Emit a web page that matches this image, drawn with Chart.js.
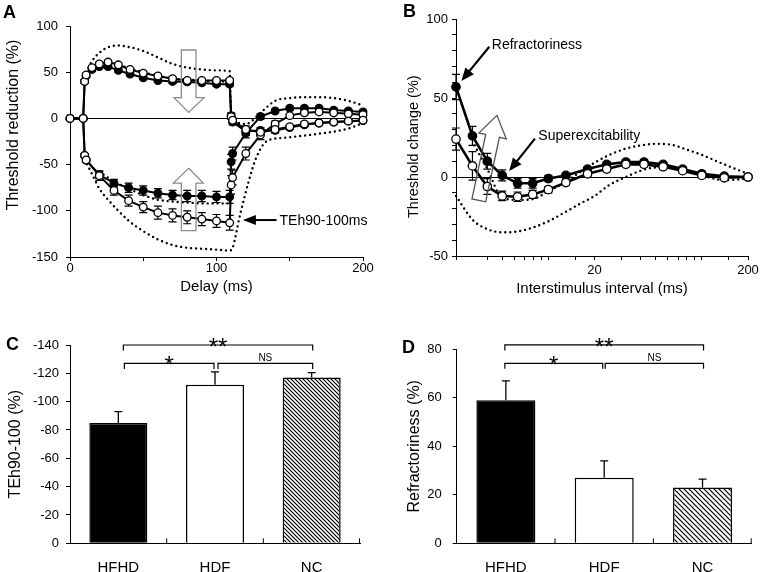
<!DOCTYPE html>
<html><head><meta charset="utf-8">
<script src="https://cdn.jsdelivr.net/npm/chart.js@4.4.1/dist/chart.umd.min.js"></script>
<style>
html,body{margin:0;padding:0;background:#fff;}
#wrap{position:relative;width:763px;height:572px;overflow:hidden;background:#fff;}
canvas{position:absolute;}
.lbl{position:absolute;font:bold 18px "Liberation Sans",Arial,sans-serif;color:#000;line-height:18px;}
</style></head><body>
<div id="wrap">
<canvas id="cA" width="380" height="300" style="left:0;top:0"></canvas>
<canvas id="cB" width="383" height="300" style="left:380px;top:0"></canvas>
<canvas id="cC" width="380" height="272" style="left:0;top:300px"></canvas>
<canvas id="cD" width="383" height="272" style="left:380px;top:300px"></canvas>
<div class="lbl" style="left:3px;top:3px">A</div>
<div class="lbl" style="left:403px;top:2px">B</div>
<div class="lbl" style="left:6px;top:335px">C</div>
<div class="lbl" style="left:402px;top:338px">D</div>
</div>
<script>
// ===== Panel A: threshold electrotonus =====
const delayDep = [0, 9, 10, 11, 15, 20, 26, 33, 41, 50, 60, 70, 80, 90, 100, 109, 110, 111, 120, 130, 140, 150, 160, 170, 180, 190, 200];
const tedHFHD  = [0, 0, 40, 46, 53, 56, 56, 52, 48, 44, 41, 40, 39.5, 38.5, 37, 37, 3, -4, -14, -13, -13, -10, -7, -5, -4, -3, -2.5];
const tedHDF   = [0, 0, 40, 47, 55, 59, 61, 58, 53, 49, 46, 43, 41, 41, 41, 41, 2, -2, -12, -15, -12, -9, -6, -5, -4, -3, -2];
const tedErrHFHD = [0, 0, 2, 2, 2, 2, 2, 2, 2, 2, 2, 2, 2, 2, 2, 2, 3, 3, 4, 3, 3, 2, 2, 2, 2, 2, 2];
const tedErrHDF  = [0, 0, 2, 2, 2, 2, 2, 2, 2, 2, 2, 2, 2, 2, 2, 2, 3, 3, 4, 3, 3, 2, 2, 2, 2, 2, 2];

const delayHyp = [0, 9, 10, 11, 20, 30, 40, 50, 60, 70, 80, 90, 100, 109, 110, 111, 120, 130, 140, 150, 160, 170, 180, 190, 200];
const tehHFHD  = [0, 0, -40, -45, -61, -70, -75, -78, -81, -83, -84, -84, -85, -85, -47, -38, -16, 2, 8, 11, 11, 11, 9, 8, 7];
const tehHDF   = [0, 0, -40, -45, -62, -78, -89, -96, -102, -105, -107, -109, -111, -113, -72, -64, -38, -18, -6, 3, 6, 7, 6, 5, 4];
const tehErrHFHD = [0, 0, 2, 2, 4, 4, 5, 5, 5, 5, 6, 6, 6, 7, 8, 7, 5, 3, 2, 2, 2, 2, 2, 2, 2];
const tehErrHDF  = [0, 0, 2, 2, 5, 5, 6, 6, 7, 7, 7, 7, 7, 8, 10, 8, 7, 5, 3, 2, 2, 2, 2, 2, 2];

// normal-range limits (dotted)
const nrUpperDelay = [11, 15, 20, 26, 33, 41, 50, 60, 70, 80, 90, 100, 109, 110, 120, 130, 140, 150, 160, 170, 180, 190, 200];
const nrUpperTE    = [50, 62, 71, 77, 79, 77, 73, 66, 59, 55, 53, 52, 51, 4, -6, 6, 19, 22, 23, 23, 22, 19, 14];
const nrLowerDelay = [10, 15, 20, 26, 33, 41, 50, 60, 70, 80, 90, 100, 109, 111, 116, 122, 127, 134, 146, 168, 190, 200];
const nrLowerTE    = [-45, -60, -76, -88, -100, -112, -122, -131, -137, -140, -141, -142, -143, -140, -105, -68, -43, -25, -21, -17, -11, -5];
const nrInnerHypDelay = [20, 30, 40, 50, 60, 70, 80, 90, 100, 109];
const nrInnerHyp      = [-58, -68, -76, -83, -88, -90, -91, -92, -92, -92];
const nrInnerDepDelay = [15, 20, 26, 33, 41, 50, 60, 70, 80, 90, 100, 109];
const nrInnerDep      = [52, 57, 60, 58, 54, 50, 46, 43, 42, 41, 40, 40];
const xLabelsA = [0, 100, 200];

// ===== Panel B: recovery cycle =====
const isi = [2.5, 3.2, 4, 5, 6.3, 7.9, 10, 13, 18, 24, 32, 42, 56, 75, 100, 140, 200];
const rcHFHD = [57, 26, 10, 1, -4, -4, -1, 1, 5, 8, 9.5, 9.5, 8, 5, 2, 0.5, 0];
const rcHDF  = [24, 7, -6, -12, -12.5, -11, -8, -3.5, 2, 5, 8, 8, 6.5, 4, 1, -0.5, 0];
const rcErrHFHD = [8, 6, 5, 3.5, 3, 3, 2, 1.5, 1.5, 1.5, 1.5, 1.5, 1.5, 1.5, 1.5, 1, 0];
const rcErrHDF  = [7, 9, 5, 3, 3, 2.5, 2, 1.5, 1.5, 1.5, 1.5, 1.5, 1.5, 1.5, 1.5, 1, 0];
const nrRcUpperIsi = [3.3, 4, 5, 6.3, 7.9, 10, 13, 16, 20, 25, 32, 40, 50, 63, 79, 100, 140, 200];
const nrRcUpper    = [20, 5, -13, -14.5, -14, -9, -3, 3, 9, 14, 18, 20, 21, 20.5, 17.5, 14, 8, 2];
const nrRcLowerIsi = [2.5, 3.2, 4, 5, 6.3, 7.9, 10, 13, 16, 20, 25, 32, 40, 50, 63, 79, 100, 140, 200];
const nrRcLower    = [-12, -27, -33, -35, -34.5, -32, -28, -22, -17, -12, -5, 0, 4, 6, 6, 4, 1, -2, -1];
const xLabelsB = [20, 200];

// ===== Panels C & D: group bars =====
const groups = ['HFHD', 'HDF', 'NC'];
const teh90 = [-85, -112, -117];
const teh90Err = [8, 9, 3.5];
const refract = [59, 27, 23];
const refractErr = [8, 7, 3.5];
const sigMarks = ['**', '*', 'NS'];

// ===== helpers =====
const FONT = '"Liberation Sans", Arial, Helvetica, sans-serif';
Chart.defaults.font.family = FONT;
Chart.defaults.color = '#000';

function pts(xs, ys) { return xs.map((x, i) => ({x: x, y: ys[i]})); }
function mainLine(xs, ys, filled, lw, r) {
  return {data: pts(xs, ys), borderColor: '#000', borderWidth: lw, pointRadius: r, pointHoverRadius: r,
    pointBackgroundColor: filled ? '#000' : '#fff', pointBorderColor: '#000', pointBorderWidth: 1.3,
    tension: 0, clip: false, showLine: true};
}
function dotted(xs, ys) {
  return {data: pts(xs, ys), borderColor: '#000', borderWidth: 2.4, borderDash: [0, 5], borderCapStyle: 'round',
    pointRadius: 0, pointHoverRadius: 0, cubicInterpolationMode: 'monotone', clip: false, showLine: true};
}
function errBars(chart, xs, ys, es, cap) {
  const sx = chart.scales.x, sy = chart.scales.y, ctx = chart.ctx;
  ctx.save(); ctx.strokeStyle = '#000'; ctx.lineWidth = 1.2;
  xs.forEach((x, i) => {
    const e = es[i]; if (!e) return;
    const p = sx.getPixelForValue(x), a = sy.getPixelForValue(ys[i] - e), b = sy.getPixelForValue(ys[i] + e);
    ctx.beginPath();
    ctx.moveTo(p, a); ctx.lineTo(p, b);
    ctx.moveTo(p - cap, a); ctx.lineTo(p + cap, a);
    ctx.moveTo(p - cap, b); ctx.lineTo(p + cap, b);
    ctx.stroke();
  });
  ctx.restore();
}
function polyData(chart, poly, color, lw) {
  const sx = chart.scales.x, sy = chart.scales.y, ctx = chart.ctx;
  ctx.save(); ctx.strokeStyle = color; ctx.lineWidth = lw; ctx.lineJoin = 'miter';
  ctx.beginPath();
  poly.forEach((q, i) => { const X = sx.getPixelForValue(q[0]), Y = sy.getPixelForValue(q[1]); if (i) ctx.lineTo(X, Y); else ctx.moveTo(X, Y); });
  ctx.closePath(); ctx.stroke(); ctx.restore();
}
function hollowDir(ctx, x0, y0, x1, y1, sh, hh, hl, color) {
  const dx = x1 - x0, dy = y1 - y0, L = Math.hypot(dx, dy), ux = dx / L, uy = dy / L, nx = -uy, ny = ux;
  const bx = x1 - ux * hl, by = y1 - uy * hl;
  const P = [[x0 + nx * sh, y0 + ny * sh], [bx + nx * sh, by + ny * sh], [bx + nx * hh, by + ny * hh], [x1, y1],
             [bx - nx * hh, by - ny * hh], [bx - nx * sh, by - ny * sh], [x0 - nx * sh, y0 - ny * sh]];
  ctx.save(); ctx.strokeStyle = color; ctx.lineWidth = 1.3; ctx.beginPath();
  P.forEach((q, i) => i ? ctx.lineTo(q[0], q[1]) : ctx.moveTo(q[0], q[1]));
  ctx.closePath(); ctx.stroke(); ctx.restore();
}
function solidArrow(ctx, x0, y0, x1, y1, lw, hl, hw) {
  const dx = x1 - x0, dy = y1 - y0, L = Math.hypot(dx, dy), ux = dx / L, uy = dy / L, nx = -uy, ny = ux;
  const bx = x1 - ux * hl, by = y1 - uy * hl;
  ctx.save(); ctx.strokeStyle = '#000'; ctx.fillStyle = '#000'; ctx.lineWidth = lw;
  ctx.beginPath(); ctx.moveTo(x0, y0); ctx.lineTo(bx + ux * 2, by + uy * 2); ctx.stroke();
  ctx.beginPath(); ctx.moveTo(x1, y1); ctx.lineTo(bx + nx * hw, by + ny * hw); ctx.lineTo(bx - nx * hw, by - ny * hw); ctx.closePath(); ctx.fill();
  ctx.restore();
}
function txt(ctx, s, x, y, size, align, base) {
  ctx.save(); ctx.font = size + 'px ' + FONT; ctx.fillStyle = '#000'; ctx.textAlign = align || 'left';
  ctx.textBaseline = base || 'middle'; ctx.fillText(s, x, y); ctx.restore();
}
function vText(ctx, s, x, y, size) {
  ctx.save(); ctx.translate(x, y); ctx.rotate(-Math.PI / 2); ctx.font = size + 'px ' + FONT; ctx.fillStyle = '#000';
  ctx.textAlign = 'center'; ctx.textBaseline = 'middle'; ctx.fillText(s, 0, 0); ctx.restore();
}
function P(chart, x, y) { return [chart.scales.x.getPixelForValue(x), chart.scales.y.getPixelForValue(y)]; }
const zeroGrid = c => (c.tick && c.tick.value === 0) ? '#000' : 'rgba(0,0,0,0)';

// ===== Chart A =====
const plugA = {
  id: 'plugA',
  beforeDatasetsDraw(chart) {
    errBars(chart, delayHyp, tehHFHD, tehErrHFHD, 4);
    errBars(chart, delayHyp, tehHDF, tehErrHDF, 4);
    errBars(chart, delayDep, tedHFHD, tedErrHFHD, 4);
    errBars(chart, delayDep, tedHDF, tedErrHDF, 4);
  },
  afterDatasetsDraw(chart) {
    const ctx = chart.ctx;
    polyData(chart, [[76, 74], [86, 74], [86, 22.5], [91.5, 22.5], [81, 6.5], [71, 22.5], [76, 22.5]], '#8c8c8c', 1.3);
    polyData(chart, [[81, -54], [91, -70], [86, -70], [86, -121.5], [76, -121.5], [76, -70], [70.5, -70]], '#8c8c8c', 1.3);
    const t = P(chart, 141, -110), h = P(chart, 118, -110), s = P(chart, 143, -110);
    solidArrow(ctx, t[0], t[1], h[0], h[1], 2, 13, 5);
    txt(ctx, 'TEh90-100ms', s[0], s[1] + 1, 14);
    vText(ctx, 'Threshold reduction (%)', 13.5, 125, 16);
  }
};
new Chart(document.getElementById('cA'), {
  type: 'line',
  data: {datasets: [
    mainLine(delayDep, tedHDF, false, 2, 3.8),
    mainLine(delayHyp, tehHDF, false, 2, 3.8),
    mainLine(delayDep, tedHFHD, true, 2, 3.8),
    mainLine(delayHyp, tehHFHD, true, 2, 3.8),
    dotted(nrUpperDelay, nrUpperTE),
    dotted(nrLowerDelay, nrLowerTE),
    dotted(nrInnerHypDelay, nrInnerHyp),
    dotted(nrInnerDepDelay, nrInnerDep)
  ]},
  options: {
    responsive: false, devicePixelRatio: 1, animation: false, events: [],
    layout: {padding: {left: 0, top: 26, right: 17, bottom: 0}},
    plugins: {legend: {display: false}, tooltip: {enabled: false}},
    scales: {
      x: {type: 'linear', min: 0, max: 200,
          ticks: {stepSize: 50, autoSkip: false, maxRotation: 0, font: {size: 13}, padding: 0, callback: v => xLabelsA.includes(v) ? String(v) : ''},
          grid: {drawOnChartArea: false, tickLength: 4, color: '#000'}, border: {color: '#000', width: 1},
          title: {display: true, text: 'Delay (ms)', font: {size: 15}, padding: {top: 0, bottom: 4}},
          afterFit: s => { s.height = 43; }},
      y: {min: -150, max: 100, ticks: {stepSize: 50, font: {size: 13}, padding: 8},
          grid: {color: zeroGrid, tickColor: '#000', tickLength: 4, lineWidth: 1}, border: {color: '#000', width: 1},
          afterFit: s => { s.width = 70; }}
    }
  },
  plugins: [plugA]
});

// ===== Chart B =====
const plugB = {
  id: 'plugB',
  beforeDatasetsDraw(chart) {
    errBars(chart, isi, rcHFHD, rcErrHFHD, 4);
    errBars(chart, isi, rcHDF, rcErrHDF, 4);
  },
  afterDatasetsDraw(chart) {
    const ctx = chart.ctx;
    const a = P(chart, 3.52, -14.8), b = P(chart, 4.62, 39);
    hollowDir(ctx, a[0], a[1], b[0], b[1], 7, 14, 21, '#555');
    let t = P(chart, 4.12, 82.4), h = P(chart, 2.71, 60.8), s = P(chart, 4.28, 83.5);
    solidArrow(ctx, t[0], t[1], h[0], h[1], 2.2, 13, 5.5);
    txt(ctx, 'Refractoriness', s[0], s[1], 14);
    t = P(chart, 8.17, 24.3); h = P(chart, 5.55, 3.8); s = P(chart, 8.6, 25.8);
    solidArrow(ctx, t[0], t[1], h[0], h[1], 2.2, 13, 5.5);
    txt(ctx, 'Superexcitability', s[0], s[1], 14);
    vText(ctx, 'Threshold change (%)', 33.5, 146.7, 14.5);
  }
};
new Chart(document.getElementById('cB'), {
  type: 'line',
  data: {datasets: [
    mainLine(isi, rcHDF, false, 2.6, 4.2),
    mainLine(isi, rcHFHD, true, 2.6, 4.2),
    dotted(nrRcUpperIsi, nrRcUpper),
    dotted(nrRcLowerIsi, nrRcLower)
  ]},
  options: {
    responsive: false, devicePixelRatio: 1, animation: false, events: [],
    layout: {padding: {left: 0, top: 19, right: 15, bottom: 0}},
    plugins: {legend: {display: false}, tooltip: {enabled: false}},
    scales: {
      x: {type: 'logarithmic', min: 2.5, max: 200,
          ticks: {autoSkip: false, maxRotation: 0, font: {size: 13}, padding: 3,
                  callback: v => xLabelsB.some(q => Math.abs(q - v) < 1e-6) ? String(Math.round(v)) : ''},
          grid: {drawOnChartArea: false, tickLength: 4, color: '#000'}, border: {color: '#000', width: 1},
          title: {display: true, text: 'Interstimulus interval (ms)', font: {size: 15}, padding: {top: 0, bottom: 2}},
          afterFit: s => { s.height = 44; }},
      y: {min: -50, max: 100,
          ticks: {stepSize: 10, autoSkip: false, font: {size: 13}, padding: 4, callback: v => (v % 50 === 0) ? String(v) : ''},
          grid: {color: zeroGrid, tickColor: '#000', tickLength: 4, lineWidth: 1}, border: {color: '#000', width: 1},
          afterFit: s => { s.width = 76; }}
    }
  },
  plugins: [plugB]
});

// ===== Bar charts C & D =====
function hatch(ctxRef, s) {
  const c = document.createElement('canvas'); c.width = s; c.height = s;
  const g = c.getContext('2d'); g.fillStyle = '#fff'; g.fillRect(0, 0, s, s);
  g.strokeStyle = '#000'; g.lineWidth = 1.2; g.beginPath();
  g.moveTo(-1, -1); g.lineTo(s + 1, s + 1);
  g.moveTo(-1, s - 1); g.lineTo(1, s + 1);
  g.moveTo(s - 1, -1); g.lineTo(s + 1, 1);
  g.stroke();
  return ctxRef.createPattern(c, 'repeat');
}
function barPlugin(id, vals, errs, brackets) {
  return {
    id: id,
    afterDatasetsDraw(chart) {
      const ctx = chart.ctx, sx = chart.scales.x, sy = chart.scales.y, area = chart.chartArea;
      ctx.save(); ctx.strokeStyle = '#000'; ctx.lineWidth = 1.3;
      vals.forEach((v, i) => {
        const p = sx.getPixelForValue(i), a = sy.getPixelForValue(v), b = sy.getPixelForValue(v + Math.sign(v) * errs[i]);
        ctx.beginPath(); ctx.moveTo(p, a); ctx.lineTo(p, b); ctx.moveTo(p - 4, b); ctx.lineTo(p + 4, b); ctx.stroke();
      });
      // inward category ticks
      ctx.lineWidth = 1;
      const tk = [];
      for (let i = 0; i < vals.length - 1; i++) tk.push((sx.getPixelForValue(i) + sx.getPixelForValue(i + 1)) / 2);
      tk.push(area.right - 0.5);
      tk.forEach(x => { ctx.beginPath(); ctx.moveTo(x, area.bottom); ctx.lineTo(x, area.bottom - 5); ctx.stroke(); });
      // significance brackets
      ctx.lineWidth = 1.2;
      brackets.forEach(br => {
        const xa = sx.getPixelForValue(br.a) + br.ao, xb = sx.getPixelForValue(br.b) + br.bo, y = sy.getPixelForValue(br.level);
        ctx.beginPath(); ctx.moveTo(xa, y + 5.5); ctx.lineTo(xa, y); ctx.lineTo(xb, y); ctx.lineTo(xb, y + 5.5); ctx.stroke();
        const cx = (xa + xb) / 2;
        if (br.txt === 'NS') txt(ctx, br.txt, cx, y - 2, 10, 'center', 'alphabetic');
        else txt(ctx, br.txt, cx, y + 10, 24, 'center', 'alphabetic');
      });
      ctx.restore();
    }
  };
}
function barConfig(vals, fills, yOpts, xPadRight, yWidth, topPad, plug, title, titlePad) {
  return {
    type: 'bar',
    data: {labels: groups, datasets: [{data: vals, backgroundColor: fills, borderColor: '#000', borderWidth: 1.5,
      barPercentage: 0.6, categoryPercentage: 1}]},
    options: {
      responsive: false, devicePixelRatio: 1, animation: false, events: [],
      layout: {padding: {left: 0, top: topPad, right: xPadRight, bottom: 0}},
      plugins: {legend: {display: false}, tooltip: {enabled: false}},
      scales: {
        x: {grid: {display: false}, border: {color: '#000', width: 1}, ticks: {font: {size: 15}, padding: 8},
            afterFit: s => { s.height = 28.7; }},
        y: Object.assign({grid: {drawOnChartArea: false, tickLength: 4, color: '#000'}, border: {color: '#000', width: 1},
            title: {display: true, text: title, font: {size: 16}, padding: {top: titlePad, bottom: 0}},
            afterFit: s => { s.width = yWidth; }}, yOpts)
      }
    },
    plugins: [plug]
  };
}
const ctxC = document.getElementById('cC').getContext('2d');
new Chart(ctxC, barConfig(teh90, ['#000', '#fff', hatch(ctxC, 4)],
  {reverse: true, min: -140, max: 0, ticks: {stepSize: 20, font: {size: 13}, padding: 7}},
  20, 70, 45,
  barPlugin('barC', teh90, teh90Err, [
    {a: 0, b: 2, ao: 5, bo: 1, level: -140, txt: sigMarks[0]},
    {a: 0, b: 1, ao: 6, bo: -1, level: -127, txt: sigMarks[1]},
    {a: 1, b: 2, ao: 3, bo: 1, level: -127, txt: sigMarks[2]}
  ]), 'TEh90-100 (%)', 5.5));

const ctxD = document.getElementById('cD').getContext('2d');
new Chart(ctxD, barConfig(refract, ['#000', '#fff', hatch(ctxD, 5)],
  {min: 0, max: 80, ticks: {stepSize: 20, font: {size: 13}, padding: 11}},
  11.3, 76.7, 49.3,
  barPlugin('barD', refract, refractErr, [
    {a: 0, b: 2, ao: -1, bo: 1, level: 81.8, txt: sigMarks[0]},
    {a: 0, b: 1, ao: -1, bo: -1.5, level: 74.2, txt: sigMarks[1]},
    {a: 1, b: 2, ao: 1, bo: 1, level: 74.2, txt: sigMarks[2]}
  ]), 'Refractoriness (%)', 24.5));
</script>
</body></html>
